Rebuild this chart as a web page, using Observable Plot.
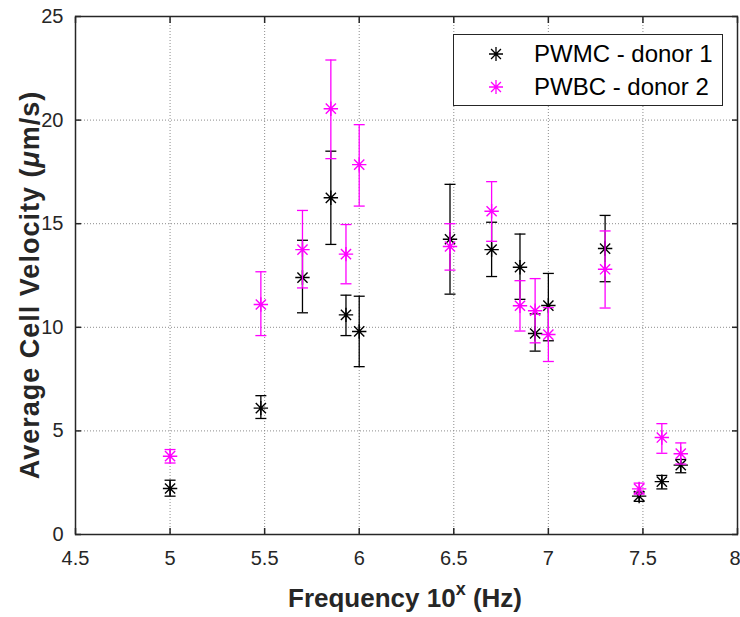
<!DOCTYPE html>
<html>
<head>
<meta charset="utf-8">
<script src="https://cdn.jsdelivr.net/npm/d3@7"></script>
<script src="https://cdn.jsdelivr.net/npm/@observablehq/plot@0.6"></script>
<style>
  html, body { margin: 0; padding: 0; background: #ffffff; }
  body { font-family: "Liberation Sans", Arial, Helvetica, sans-serif; }
  #wrap { position: relative; width: 740px; height: 617px; overflow: hidden; }
  #legend { position: absolute; left: 453px; top: 34px; width: 270px; height: 72px;
            border: 1px solid #262626; background: #ffffff; box-sizing: border-box; }
  .lrow { position: absolute; left: 0; height: 30px; display: flex; align-items: center;
          font-size: 24px; color: #000; white-space: nowrap; }
  .lrow svg { position: absolute; left: 33px; }
  .lrow span { position: absolute; left: 80px; }
</style>
</head>
<body>
<div id="wrap"></div>
<script>
// ---- data (log10 frequency, mean velocity, error-bar low / high) ----
const freq = [5, 5.48, 5.7, 5.85, 5.93, 6, 6.48, 6.7, 6.85, 6.93, 7, 7.3, 7.48, 7.6, 7.7];

const pwmcMean = [2.22, 6.1, 12.4, 16.25, 10.6, 9.8, 14.25, 13.75, 12.9, 9.7, 11.05, 13.8, 1.85, 2.55, 3.35];
const pwmcLow  = [1.85, 5.6, 10.7, 14.0, 9.6, 8.1, 11.6, 12.45, 11.35, 8.85, 9.35, 12.2, 1.6, 2.2, 2.98];
const pwmcHigh = [2.62, 6.7, 14.2, 18.5, 11.55, 11.5, 16.9, 15.07, 14.5, 10.65, 12.6, 15.4, 2.05, 2.85, 3.62];

const pwbcMean = [3.78, 11.1, 13.75, 20.55, 13.53, 17.85, 13.9, 15.6, 11.04, 10.8, 9.65, 12.8, 2.2, 4.68, 3.9];
const pwbcLow  = [3.45, 9.6, 11.9, 18.14, 12.1, 15.85, 12.76, 14.15, 9.82, 9.25, 8.35, 10.93, 1.95, 3.92, 3.4];
const pwbcHigh = [4.1, 12.68, 15.64, 22.9, 14.96, 19.78, 15.0, 17.03, 12.25, 12.35, 10.95, 14.65, 2.48, 5.35, 4.42];

const seriesNames = ["PWMC - donor 1", "PWBC - donor 2"];
const seriesColors = ["#000000", "#ff00ff"];

const xTicks = [4.5, 5, 5.5, 6, 6.5, 7, 7.5, 8];
const yTicks = [0, 5, 10, 15, 20, 25];

// ---- build tables ----
function table(name, mean, lo, hi) {
  return freq.map((f, i) => ({series: name, x: f, y: mean[i], lo: lo[i], hi: hi[i]}));
}
const series = [
  table(seriesNames[0], pwmcMean, pwmcLow, pwmcHigh),
  table(seriesNames[1], pwbcMean, pwbcLow, pwbcHigh)
];

// ---- custom symbols ----
const asterisk = {
  draw(ctx, size) {
    const r = Math.sqrt(size / Math.PI);
    const d = r * Math.SQRT1_2;
    ctx.moveTo(-r, 0); ctx.lineTo(r, 0);
    ctx.moveTo(0, -r); ctx.lineTo(0, r);
    ctx.moveTo(-d, -d); ctx.lineTo(d, d);
    ctx.moveTo(-d, d); ctx.lineTo(d, -d);
  }
};
const cap = {
  draw(ctx, size) {
    const r = Math.sqrt(size / Math.PI);
    ctx.moveTo(-r, 0); ctx.lineTo(r, 0);
  }
};

const axisColor = "#262626";
const gridStyle = {stroke: "#8c8c8c", strokeOpacity: 1, strokeWidth: 1, strokeDasharray: "1,2"};

const marks = [
  Plot.gridX(xTicks, gridStyle),
  Plot.gridY(yTicks, gridStyle)
];
series.forEach((data, k) => {
  const c = seriesColors[k];
  marks.push(
    Plot.ruleX(data, {x: "x", y1: "lo", y2: "hi", stroke: c, strokeWidth: 1.3}),
    Plot.dot(data, {x: "x", y: "lo", symbol: cap, r: 5.5, stroke: c, fill: "none", strokeWidth: 1.3}),
    Plot.dot(data, {x: "x", y: "hi", symbol: cap, r: 5.5, stroke: c, fill: "none", strokeWidth: 1.3}),
    Plot.dot(data, {x: "x", y: "y", symbol: asterisk, r: 7.2, stroke: c, fill: "none", strokeWidth: 1.4})
  );
});
const xLabelTicks = xTicks.slice(0, -1);
const xLastTick = xTicks.slice(-1);
marks.push(
  Plot.frame({stroke: axisColor, strokeWidth: 1.5}),
  Plot.axisX(xTicks, {anchor: "bottom", tickSize: -6, color: axisColor, strokeWidth: 1.5,
                      tickFormat: () => "", label: null}),
  Plot.axisX(xLabelTicks, {anchor: "bottom", tickSize: 0, tickPadding: 16, fontSize: 20, color: axisColor,
                      tickFormat: d => String(d), label: null}),
  Plot.axisX(xLastTick, {anchor: "bottom", tickSize: 0, tickPadding: 16, fontSize: 20, color: axisColor,
                      textAnchor: "end", dx: 3, tickFormat: d => String(d), label: null}),
  Plot.axisX(xTicks, {anchor: "top", tickSize: -6, color: axisColor, strokeWidth: 1.5,
                      tickFormat: () => "", label: null}),
  Plot.axisY(yTicks, {anchor: "left", tickSize: -6, tickPadding: 18, fontSize: 20, color: axisColor,
                      strokeWidth: 1.5, tickFormat: d => String(d), label: null}),
  Plot.axisY(yTicks, {anchor: "right", tickSize: -6, color: axisColor, strokeWidth: 1.5,
                      tickFormat: () => "", label: null})
);

const chart = Plot.plot({
  width: 740,
  height: 617,
  marginLeft: 75,
  marginRight: 3,
  marginTop: 16,
  marginBottom: 83,
  style: {fontFamily: "'Liberation Sans', Arial, Helvetica, sans-serif", background: "#ffffff", overflow: "visible"},
  x: {domain: [4.5, 8]},
  y: {domain: [0, 25]},
  marks
});

// ---- axis titles ----
const svg = d3.select(chart);
const yl = svg.append("text")
  .attr("transform", "translate(30,285) rotate(-90)")
  .attr("text-anchor", "middle")
  .attr("dominant-baseline", "central")
  .attr("font-weight", "bold")
  .attr("font-size", 27)
  .attr("letter-spacing", 1)
  .attr("fill", axisColor);
yl.append("tspan").text("Average Cell Velocity (");
yl.append("tspan").attr("font-style", "italic").text("\u03bc");
yl.append("tspan").text("m/s)");

const xl = svg.append("text")
  .attr("x", 405).attr("y", 607)
  .attr("text-anchor", "middle")
  .attr("font-weight", "bold")
  .attr("font-size", 26)
  .attr("fill", axisColor);
xl.append("tspan").text("Frequency 10");
xl.append("tspan").attr("font-size", 18).attr("dy", -12).text("x");
xl.append("tspan").attr("dy", 12).text(" (Hz)");

const wrap = document.getElementById("wrap");
wrap.appendChild(chart);

// ---- legend (HTML overlay) ----
const legend = document.createElement("div");
legend.id = "legend";
const rowTops = [4, 37];
seriesNames.forEach((name, k) => {
  const row = document.createElement("div");
  row.className = "lrow";
  row.style.top = rowTops[k] + "px";
  const s = d3.create("svg").attr("width", 18).attr("height", 18).attr("viewBox", "-9 -9 18 18");
  const r = 7, d = r * Math.SQRT1_2;
  s.append("path")
    .attr("d", `M${-r},0L${r},0M0,${-r}L0,${r}M${-d},${-d}L${d},${d}M${-d},${d}L${d},${-d}`)
    .attr("stroke", seriesColors[k]).attr("stroke-width", 1.3).attr("fill", "none");
  row.appendChild(s.node());
  const t = document.createElement("span");
  t.textContent = name;
  row.appendChild(t);
  legend.appendChild(row);
});
wrap.appendChild(legend);
</script>
</body>
</html>
